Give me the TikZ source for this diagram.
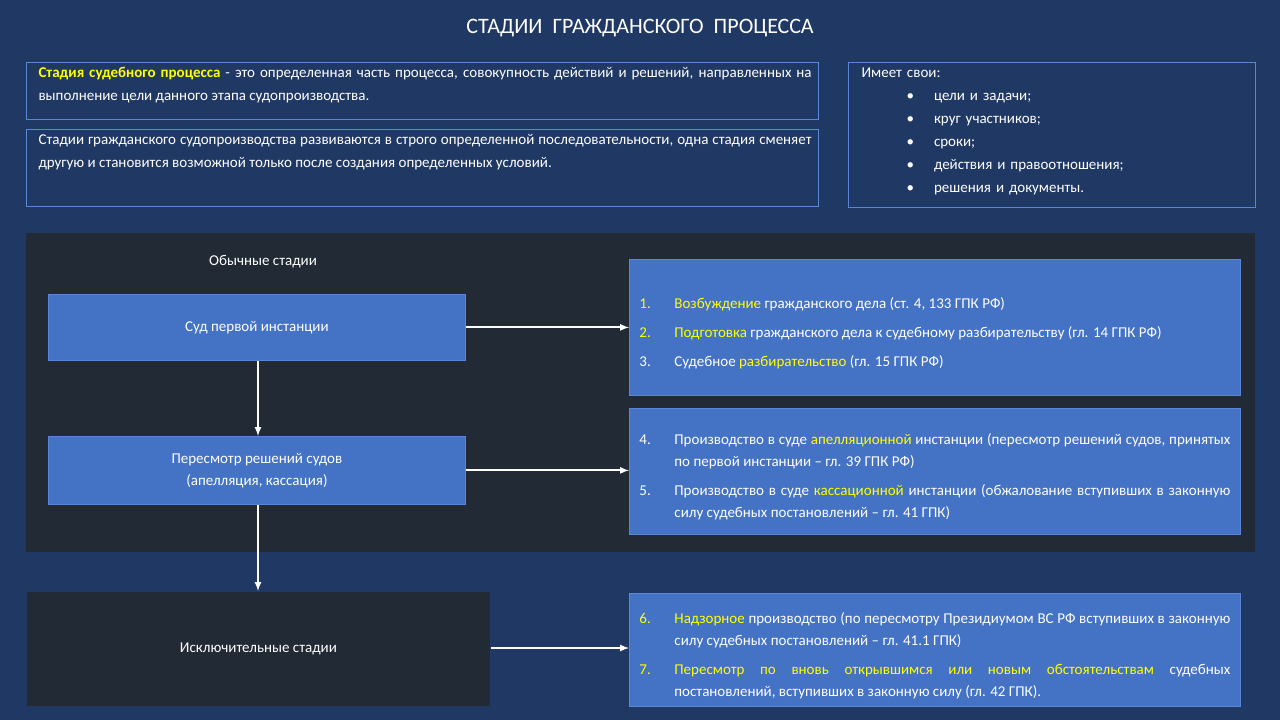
\documentclass[tikz,border=0pt]{standalone}
\usepackage{fontspec}
\setmainfont{Carlito}
\usepackage{enumitem}
\usetikzlibrary{positioning, arrows}
\definecolor{bgblue}{HTML}{203864}
\definecolor{boxblue}{HTML}{4472C4}
\definecolor{lineblue}{HTML}{5B86D6}
\definecolor{darkpanel}{HTML}{222A35}
\definecolor{yel}{HTML}{FFFF00}
\newcommand{\hlyel}[1]{\textcolor{yel}{#1}}
\tikzstyle{txt} = [text=white, font=\fontsize{15}{23}\selectfont, align=justify]
\tikzstyle{stage} = [rectangle, draw=lineblue, fill=boxblue, line width=0.8pt, text=white, font=\fontsize{15}{22}\selectfont, align=center, anchor=north west]
\tikzstyle{list} = [rectangle, draw=lineblue, fill=boxblue, line width=0.8pt, text=white, font=\fontsize{15}{22}\selectfont, align=justify, anchor=north west, text width=591pt, inner xsep=10pt, minimum width=611pt]
\tikzstyle{arrow} = [white, line width=2pt, -latex]
\setlist[enumerate]{label=\arabic*., leftmargin=35pt, labelsep=*, align=left, topsep=0pt, itemsep=7pt, parsep=0pt, partopsep=0pt}
\begin{document}
\begin{tikzpicture}[x=1pt, y=-1pt]
		\fill[bgblue] (0,0) rectangle (1280,720);
		\useasboundingbox (0,0) rectangle (1280,720);
		\node (Title) [text=white, font=\fontsize{22}{26}\selectfont] at (640,28) {СТАДИИ\ \ ГРАЖДАНСКОГО\ \ ПРОЦЕССА};
		% top boxes
		\draw[lineblue, line width=0.8pt] (26,62) rectangle (818,119);
		\node (Definition) [txt, text width=773pt, anchor=north west] at (35,64) {\hlyel{\textbf{Стадия судебного процесса}} - это определенная часть процесса, совокупность действий и решений, направленных на выполнение цели данного этапа судопроизводства.};
		\draw[lineblue, line width=0.8pt] (26,129) rectangle (818,206);
		\node (Sequence) [txt, text width=773pt, anchor=north west] at (35,131) {Стадии гражданского судопроизводства развиваются в строго определенной последовательности, одна стадия сменяет другую и становится возможной только после создания определенных условий.};
		\draw[lineblue, line width=0.8pt] (848,62) rectangle (1255,207);
		\node (Features) [txt, align=left, text width=390pt, anchor=north west] at (858,64) {Имеет свои:\\[0pt]
			\hspace*{45pt}\textbullet\hspace{20pt}цели и задачи;\\
			\hspace*{45pt}\textbullet\hspace{20pt}круг участников;\\
			\hspace*{45pt}\textbullet\hspace{20pt}сроки;\\
			\hspace*{45pt}\textbullet\hspace{20pt}действия и правоотношения;\\
			\hspace*{45pt}\textbullet\hspace{20pt}решения и документы.};
		% ordinary stages
		\fill[darkpanel] (26,233) rectangle (1255,552);
		\node (Ordinary) [text=white, font=\fontsize{15}{22}\selectfont] at (263,262) {Обычные стадии};
		\node (FirstInst) [stage, minimum width=417pt, minimum height=66pt] at (48,294) {Суд первой инстанции};
		\node (Review) [stage, minimum width=417pt, minimum height=68pt] at (48,436) {Пересмотр решений судов\\(апелляция, кассация)};
		\node (Exceptional) [stage, fill=darkpanel, draw=bgblue, minimum width=464pt, minimum height=115pt] at (26,591) {Исключительные стадии};
		\node (FirstList) [list, minimum height=136pt] at (629,259) {\begin{enumerate}
			\item[\hlyel{1.}] \hlyel{Возбуждение} гражданского дела (ст. 4, 133 ГПК РФ)
			\item[\hlyel{2.}] \hlyel{Подготовка} гражданского дела к судебному разбирательству (гл. 14 ГПК РФ)
			\item[3.] Судебное \hlyel{разбирательство} (гл. 15 ГПК РФ)
		\end{enumerate}};
		\node (ReviewList) [list, minimum height=126pt] at (629,408) {\begin{enumerate}
			\item[4.] Производство в суде \hlyel{апелляционной} инстанции (пересмотр решений судов, принятых по первой инстанции -- гл. 39 ГПК РФ)
			\item[5.] Производство в суде \hlyel{кассационной} инстанции (обжалование вступивших в законную силу судебных постановлений -- гл. 41 ГПК)
		\end{enumerate}};
		\node (ExceptList) [list, minimum height=113pt] at (629,593) {\begin{enumerate}
			\item[\hlyel{6.}] \hlyel{Надзорное} производство (по пересмотру Президиумом ВС РФ вступивших в законную силу судебных постановлений -- гл. 41.1 ГПК)
			\item[\hlyel{7.}] \hlyel{Пересмотр по вновь открывшимся или новым обстоятельствам} судебных постановлений, вступивших в законную силу (гл. 42 ГПК).
		\end{enumerate}};
		\draw [arrow] (FirstInst.east) -- (FirstInst.east -| FirstList.west);
		\draw [arrow] (Review.east) -- (Review.east -| ReviewList.west);
		\draw [arrow] (Exceptional.east |- 648,648) -- (ExceptList.west |- 648,648);
		\draw [arrow] (FirstInst.south -| 258,0) -- (Review.north -| 258,0);
		\draw [arrow] (Review.south -| 258,0) -- (Exceptional.north -| 258,0);
\end{tikzpicture}
\end{document}
